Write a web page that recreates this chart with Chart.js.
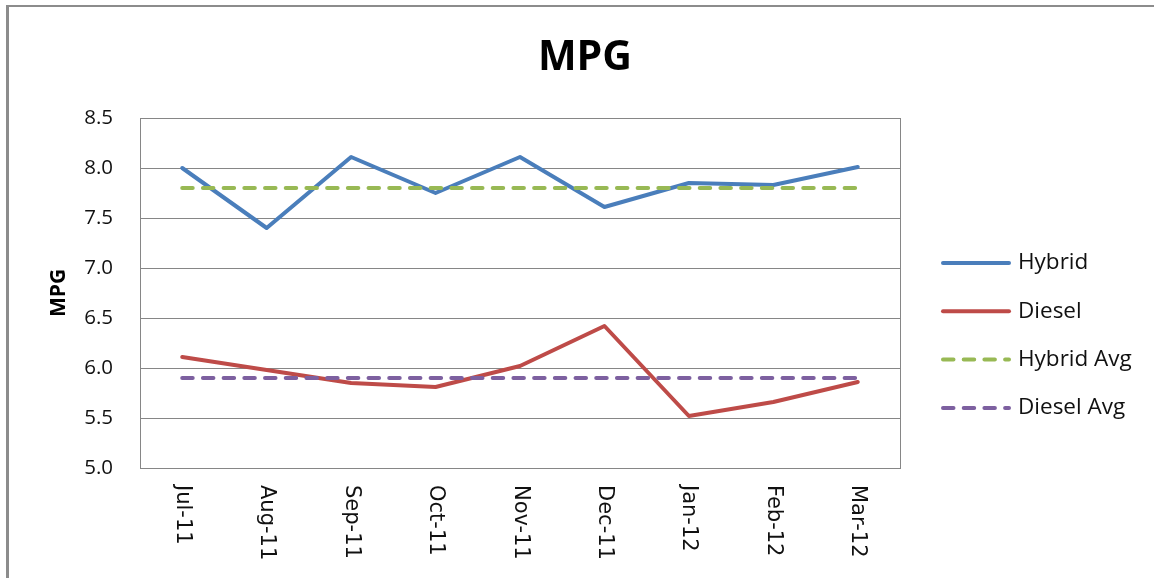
<!DOCTYPE html>
<html>
<head>
<meta charset="utf-8">
<title>MPG</title>
<script src="https://cdn.jsdelivr.net/npm/chart.js@4.4.1/dist/chart.umd.min.js"></script>
<style>
  html, body { margin: 0; padding: 0; background: #fff; overflow: hidden; }
  #wrap { position: relative; width: 1154px; height: 578px; }
  #frame {
    position: absolute; left: 6px; top: 5px; width: 1170px; height: 600px;
    border-top: 2px solid #8c8c8c; border-left: 3px solid #8c8c8c; box-sizing: border-box;
  }
  canvas { position: absolute; left: 0; top: 0; }
</style>
</head>
<body>
<div id="wrap">
  <div id="frame"></div>
  <canvas id="chart" width="1154" height="578"></canvas>
</div>
<script>
// Monthly fuel economy, July 2011 to March 2012
const months    = ['Jul-11', 'Aug-11', 'Sep-11', 'Oct-11', 'Nov-11', 'Dec-11', 'Jan-12', 'Feb-12', 'Mar-12'];
const hybrid    = [8.00, 7.40, 8.11, 7.75, 8.11, 7.61, 7.85, 7.83, 8.01];
const diesel    = [6.11, 5.98, 5.85, 5.81, 6.02, 6.42, 5.52, 5.66, 5.86];
const hybridAvg = [7.80, 7.80, 7.80, 7.80, 7.80, 7.80, 7.80, 7.80, 7.80];
const dieselAvg = [5.90, 5.90, 5.90, 5.90, 5.90, 5.90, 5.90, 5.90, 5.90];
const yMin = 5.0, yMax = 8.5, yStep = 0.5;

const seriesNames = ['Hybrid', 'Diesel', 'Hybrid Avg', 'Diesel Avg'];

const DASH = [10.5, 10.2];
const LINE_W = 4;

function lineSet(label, data, color, dashed, order) {
  return {
    label, data, order,
    borderColor: color,
    backgroundColor: color,
    borderWidth: LINE_W,
    borderDash: dashed ? DASH : [],
    borderCapStyle: 'round',
    borderJoinStyle: 'round',
    pointRadius: 0,
    pointHoverRadius: 0,
    tension: 0,
    fill: false
  };
}

// Box around the plotting area
const plotFrame = {
  id: 'plotFrame',
  beforeDatasetsDraw(chart) {
    const { ctx, chartArea: a } = chart;
    ctx.save();
    ctx.strokeStyle = '#868686';
    ctx.lineWidth = 1;
    ctx.strokeRect(Math.round(a.left) + 0.5, Math.round(a.top) + 0.5,
                   Math.round(a.right - a.left), Math.round(a.bottom - a.top));
    ctx.restore();
  }
};

// Category labels read top-to-bottom under each tick
const verticalLabels = {
  id: 'verticalLabels',
  afterDraw(chart) {
    const { ctx, chartArea: a } = chart;
    const xs = chart.scales.x;
    ctx.save();
    ctx.font = '21px "DejaVu Sans"';
    ctx.fillStyle = '#111';
    ctx.textAlign = 'left';
    ctx.textBaseline = 'middle';
    xs.getLabels().forEach((lab, i) => {
      const x = xs.getPixelForTick(i);
      ctx.save();
      ctx.translate(x, a.bottom + 17);
      ctx.rotate(Math.PI / 2);
      ctx.fillText(lab, 0, 0);
      ctx.restore();
    });
    ctx.restore();
  }
};

// Legend column on the right of the plot
const sideLegend = {
  id: 'sideLegend',
  afterDraw(chart) {
    const { ctx, chartArea: a } = chart;
    const x0 = a.right + 43, x1 = a.right + 109, tx = a.right + 118;
    const top = 263, step = 48.3;
    ctx.save();
    ctx.font = '22.5px "Open Sans"';
    ctx.textAlign = 'left';
    ctx.textBaseline = 'middle';
    chart.data.datasets.forEach((ds, i) => {
      const y = top + i * step;
      ctx.beginPath();
      ctx.strokeStyle = ds.borderColor;
      ctx.lineWidth = ds.borderWidth;
      ctx.lineCap = 'round';
      ctx.setLineDash(ds.borderDash || []);
      ctx.moveTo(x0, y);
      ctx.lineTo(x1, y);
      ctx.stroke();
      ctx.setLineDash([]);
      ctx.fillStyle = '#111';
      ctx.fillText(ds.label, tx, y);
    });
    ctx.restore();
  }
};

new Chart(document.getElementById('chart'), {
  type: 'line',
  data: {
    labels: months,
    datasets: [
      lineSet(seriesNames[0], hybrid,    '#4A7EBB', false, 4),
      lineSet(seriesNames[1], diesel,    '#BE4B48', false, 3),
      lineSet(seriesNames[2], hybridAvg, '#98B954', true,  2),
      lineSet(seriesNames[3], dieselAvg, '#7D60A0', true,  1)
    ]
  },
  options: {
    responsive: false,
    animation: false,
    events: [],
    layout: { padding: { left: 16, top: 0, right: 0, bottom: 0 } },
    plugins: {
      legend: { display: false },
      tooltip: { enabled: false },
      title: {
        display: true,
        text: 'MPG',
        color: '#000',
        font: { family: '"Open Sans"', size: 41, weight: 'bold', lineHeight: 1.2 },
        padding: { top: 34, bottom: 34.8 }
      }
    },
    scales: {
      x: {
        type: 'category',
        offset: true,
        grid: { display: false, drawTicks: false },
        border: { display: false },
        ticks: { display: false },
        afterFit(scale) { scale.height = 110; }
      },
      y: {
        min: yMin,
        max: yMax,
        grid: { color: '#868686', lineWidth: 1, drawTicks: false },
        border: { display: false },
        ticks: {
          stepSize: yStep,
          padding: 27,
          color: '#111',
          font: { family: '"Open Sans"', size: 20.5 },
          callback: v => Number(v).toFixed(1)
        },
        title: {
          display: true,
          text: 'MPG',
          color: '#000',
          font: { family: '"Open Sans"', size: 21, weight: 'bold', lineHeight: 1.2 },
          padding: { top: 30, bottom: 0 }
        },
        afterFit(scale) { scale.width = 124; }
      },
      // empty column on the right that holds the legend
      side: {
        type: 'linear',
        position: 'right',
        display: true,
        grid: { display: false, drawTicks: false },
        border: { display: false },
        ticks: { display: false },
        afterFit(scale) { scale.width = 254; }
      }
    }
  },
  plugins: [plotFrame, verticalLabels, sideLegend]
});
</script>
</body>
</html>
